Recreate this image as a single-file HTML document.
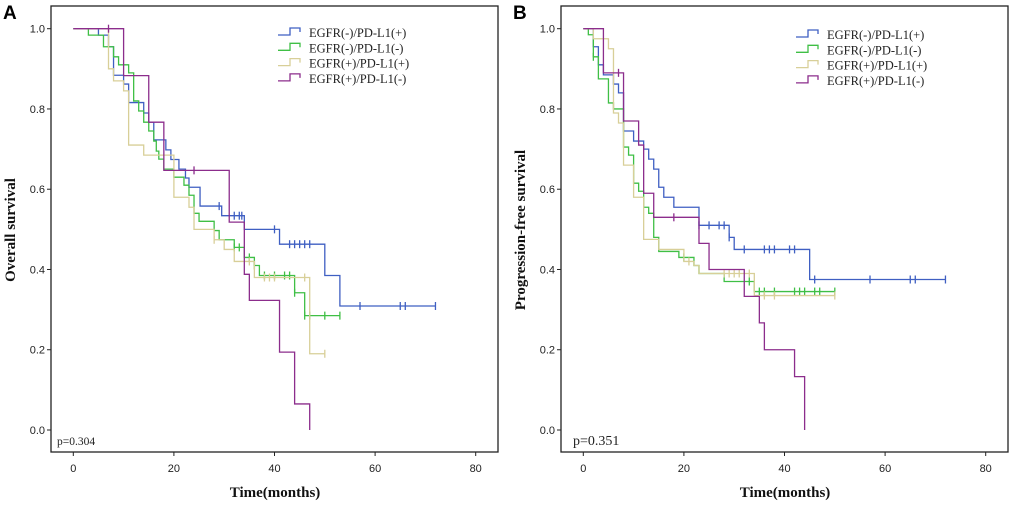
<!DOCTYPE html>
<html><head><meta charset="utf-8"><style>
body{margin:0;background:#fff;width:1020px;height:508px;overflow:hidden}
svg{display:block}
.tick{font:11px "Liberation Sans",sans-serif;fill:#222}
.ser{font-family:"Liberation Serif",serif}
</style></head><body>
<svg id="chart" width="1020" height="508" viewBox="0 0 1020 508" xmlns="http://www.w3.org/2000/svg"></svg>
<script>
const xTicks=[0,20,40,60,80];
const yTicks=[0,0.2,0.4,0.6,0.8,1.0];
const groupNames=["EGFR(-)/PD-L1(+)","EGFR(-)/PD-L1(-)","EGFR(+)/PD-L1(+)","EGFR(+)/PD-L1(-)"];
const groupColors=["#3f5fc2","#3fbf45","#d8cf98","#8c2d8c"];
// Panel A step times / survival values
const aBlueT=[0,5,7,8,10,11,14,15,16,18.4,19.4,21,22.3,23,25.2,29.5,34,41,50,53];
const aBlueS=[1,.984,.955,.884,.862,.816,.79,.767,.723,.698,.674,.65,.628,.605,.558,.534,.5,.463,.385,.309];
const aBlueEnd=72, aBlueC=[29,32,33,33.5,40,43,44,45,46,47,57,65,66,72];
const aGreenT=[0,3,6,8,9,11,12,13,14,15,16,16.5,17,18,20,22,23,24,25,28,29,32,34,36,37,44,46];
const aGreenS=[1,.984,.955,.93,.91,.89,.82,.795,.767,.745,.72,.695,.675,.65,.63,.61,.585,.54,.52,.497,.474,.455,.43,.41,.385,.342,.285];
const aGreenEnd=53, aGreenC=[32,33,35,36,38,40,42,43,44,46,47,50,53];
const aKhakiT=[0,7,8,10,11,14,20,23,24,28,30,32,36,47];
const aKhakiS=[1,.9,.87,.845,.71,.685,.58,.555,.5,.474,.45,.42,.38,.19];
const aKhakiEnd=50, aKhakiC=[28,35,38,39,40,46,50];
const aPurpleT=[0,10,15,18,31,34,35,41,44,47];
const aPurpleS=[1,.883,.767,.647,.518,.388,.323,.194,.065,0];
const aPurpleEnd=47, aPurpleC=[7,24];
// Panel B
const bBlueT=[0,2,3,4,6,7,8,10,12,13,14,15,16,18,23,29,30,45];
const bBlueS=[1,.955,.91,.885,.862,.84,.745,.72,.7,.675,.65,.605,.58,.555,.51,.48,.45,.375];
const bBlueEnd=72, bBlueC=[23,25,27,28,29,32,36,37,38,41,42,46,57,65,66,72];
const bGreenT=[0,1,2,3,5,6,8,9,10,11,12,13,14,15,19,22,23,28,34];
const bGreenS=[1,.985,.93,.875,.815,.8,.705,.685,.615,.595,.555,.54,.48,.445,.43,.41,.39,.37,.345];
const bGreenEnd=50, bGreenC=[2,20,33,35,36,38,42,43,44,46,47,50];
const bKhakiT=[0,2,5,6,7,8,10,12,15,20,22,23,34];
const bKhakiS=[1,.975,.95,.79,.765,.66,.58,.475,.45,.42,.41,.39,.335];
const bKhakiEnd=50, bKhakiC=[21,28,29,30,31,33,36,38,50];
const bPurpleT=[0,4,8,11,12,14,23,25,32,35,36,42,44];
const bPurpleS=[1,.89,.77,.71,.59,.53,.465,.4,.333,.267,.2,.133,0];
const bPurpleEnd=44, bPurpleC=[7,18];

const NS="http://www.w3.org/2000/svg";
const svg=document.getElementById('chart');
function mk(tag,attrs,parent){const e=document.createElementNS(NS,tag);for(const k in attrs)e.setAttribute(k,attrs[k]);(parent||svg).appendChild(e);return e;}

function panel(ox,letter,ylab,pText,pStyle,series,legX,legY){
  const g=mk('g',{});
  
  
  const x0=ox+73.3, xs=(402.4)/80;
  const X=t=>x0+t*xs, Y=s=>430-s*401.3;
  const frame=mk('rect',{x:ox+51,y:6,width:447,height:446,fill:'none',stroke:'#222','stroke-width':1.3},g);
  
  
  const lt=mk('text',{x:ox+3,y:19,'font-family':'Liberation Sans,sans-serif','font-weight':'bold','font-size':19,fill:'#000'},g);
  lt.textContent=letter;
  
  
  yTicks.forEach(v=>{
    mk('line',{x1:ox+47,x2:ox+51,y1:Y(v),y2:Y(v),stroke:'#222'},g);
    const t=mk('text',{x:ox+45,y:Y(v)+4,'text-anchor':'end',class:'tick'},g);
    t.textContent=v.toFixed(1);
    
    
  });
  xTicks.forEach(v=>{
    mk('line',{x1:X(v),x2:X(v),y1:452,y2:456,stroke:'#222'},g);
    const t=mk('text',{x:X(v),y:472,'text-anchor':'middle',class:'tick'},g);
    t.textContent=v;
    
    
  });
  const xl=mk('text',{x:ox+275,y:497,'text-anchor':'middle',class:'ser','font-weight':'bold','font-size':15,fill:'#111'},g);
  xl.textContent='Time(months)';
  
  
  const yl=mk('text',{x:0,y:0,transform:`translate(${ox+15},${ylab.c}) rotate(-90)`,'text-anchor':'middle',class:'ser','font-weight':'bold','font-size':15,fill:'#111'},g);
  yl.textContent=ylab.t;
  
  
  const pt=mk('text',Object.assign({x:ox+57,y:445,fill:'#222'},pStyle),g);
  pt.textContent=pText;
  
  
  series.forEach((s,i)=>{
    let d=`M${X(s.t[0])},${Y(s.s[0])}`;
    for(let k=1;k<s.t.length;k++){d+=` H${X(s.t[k])} V${Y(s.s[k])}`;}
    d+=` H${X(s.end)}`;
    const p=mk('path',{d,fill:'none',stroke:groupColors[i],'stroke-width':1.3},g);
    
    
    s.c.forEach(c=>{
      let sv=s.s[0];for(let k=0;k<s.t.length;k++){if(s.t[k]<=c)sv=s.s[k];}
      const m=mk('path',{d:`M${X(c)},${Y(sv)-4} V${Y(sv)+4}`,stroke:groupColors[i],'stroke-width':1.3},g);
      
      
    });
    const ly=legY+i*15.3;
    const lg=mk('path',{d:`M${legX},${ly+3} H${legX+12} V${ly-4} H${legX+22} V${ly}`,fill:'none',stroke:groupColors[i],'stroke-width':1.3},g);
    
    
    const lt2=mk('text',{x:legX+31,y:ly+5,class:'ser','font-size':12.5,fill:'#222'},g);
    lt2.textContent=groupNames[i];
    
    
  });
}
panel(0,'A',{t:'Overall survival',c:230},'p=0.304',{'font-family':'Liberation Serif,serif','font-size':11.5},[
 {t:aBlueT,s:aBlueS,end:aBlueEnd,c:aBlueC},{t:aGreenT,s:aGreenS,end:aGreenEnd,c:aGreenC},
 {t:aKhakiT,s:aKhakiS,end:aKhakiEnd,c:aKhakiC},{t:aPurpleT,s:aPurpleS,end:aPurpleEnd,c:aPurpleC}],278,32);
panel(510,'B',{t:'Progression-free survival',c:230},'p=0.351',{'font-family':'Liberation Serif,serif','font-size':14,x:573},[
 {t:bBlueT,s:bBlueS,end:bBlueEnd,c:bBlueC},{t:bGreenT,s:bGreenS,end:bGreenEnd,c:bGreenC},
 {t:bKhakiT,s:bKhakiS,end:bKhakiEnd,c:bKhakiC},{t:bPurpleT,s:bPurpleS,end:bPurpleEnd,c:bPurpleC}],796,34);
</script>
</body></html>
